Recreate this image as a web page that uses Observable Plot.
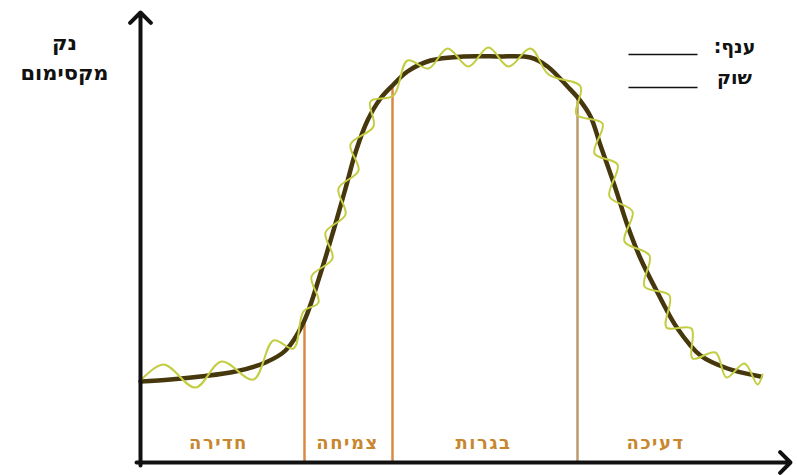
<!DOCTYPE html>
<html><head><meta charset="utf-8">
<script src="https://cdn.jsdelivr.net/npm/d3@7"></script>
<script src="https://cdn.jsdelivr.net/npm/@observablehq/plot@0.6"></script>
<style>body{margin:0;background:#fff;} svg text{font-family:"DejaVu Sans",sans-serif;}</style>
</head><body><div id="chart"></div>
<script>
// Industry curve (smooth, dark)
const curveX = [0,3,6,9.5,12.5,14.5,16.3,18,19.3,20.5,21.5,22.7,24,25.3,26.7,29,32.3,35.7,39,40.7,42.7,43.8,45,46,47.5,48.7,50,51.7,53.7,56,58.7,62];
const curveY = [8.1,8.3,8.6,9.1,10,11.2,14,18.9,23.2,27.4,31,34.2,36.4,37.8,39.1,40.2,40.6,40.6,40.5,39.6,37.6,36.4,34.6,31.7,27.4,23.7,20.4,17,13.4,10.7,9.4,8.6];
// Market curve (wavy, yellow-green)
const waveX = [0,2.3,5.5,8.1,11.3,13.3,15.3,16.3,17.8,17.1,19.2,18.5,20.5,19.8,21.8,21,23.3,23,25.3,26.7,28.8,30.7,32.8,34.8,36.8,39,40.8,44,43.6,46.2,45.4,47.7,46.9,49.2,48.4,50.9,50.4,52.9,52.6,55.1,55.2,57.5,58.6,60.4,61.7,62.2];
const waveY = [8.2,9.8,7.5,10.1,8.3,12.2,11.4,15.1,16,18.6,20.4,23,24.8,27.4,29.2,31.8,33.6,36.1,36.7,40.2,39.4,41.4,39.6,41.5,39.6,41.4,38.8,37.6,34.8,33.9,30.9,29.8,26.6,25.1,22.1,20.7,17.6,16.7,13.5,13.4,10.4,11,8.5,9.9,7.8,8.8];
// Stage dividers
const dividerX = [16.4, 25.2, 43.7];
const dividerTop = [14.2, 37.8, 36.4];
// Stage labels
const stageLabels = ["חדירה", "צמיחה", "בגרות", "דעיכה"];
const stageX = [7.8, 20.7, 34.3, 51.5];
const stageY = 1.9;
// Axis label and legend
const yLabelLines = ["נק", "מקסימום"];
const legendLabels = ["ענף:", "שוק"];

const RLM = "\u200F";
const curve = curveX.map((x, i) => ({x, y: curveY[i]}));
const wave = waveX.map((x, i) => ({x, y: waveY[i]}));
const dividers = dividerX.map((x, i) => ({x, top: dividerTop[i], i}));
const stages = stageLabels.map((t, i) => ({t, x: stageX[i]}));
const axes = [{x1: 0, y1: -0.3, x2: 0, y2: 45}, {x1: -0.4, y1: 0, x2: 65, y2: 0}];
const yLab = yLabelLines.map((t, i) => ({t, x: -7.6, y: 41.9 - i * 3.0}));
const legend = legendLabels.map((t, i) => ({t: t + RLM, x: 59.4, y: 41.6 - i * 3.1, ly: 40.8 - i * 3.3}));
const divColors = ["#d88a45", "#d88a45", "#bb9a6c"];

const chart = Plot.plot({
  width: 797, height: 475,
  marginLeft: 140, marginRight: 7, marginTop: 12, marginBottom: 13,
  x: {domain: [0, 65], axis: null},
  y: {domain: [0, 45], axis: null},
  marks: [
    Plot.ruleX(dividers, {x: "x", y1: 0, y2: "top", stroke: d => divColors[d.i], strokeWidth: 2.5}),
    Plot.line(curve, {x: "x", y: "y", curve: "catmull-rom", stroke: "#46380c", strokeWidth: 4.5}),
    Plot.line(wave, {x: "x", y: "y", curve: "catmull-rom", stroke: "#c3cd42", strokeWidth: 2}),
    Plot.arrow(axes, {x1: "x1", y1: "y1", x2: "x2", y2: "y2", stroke: "#111", strokeWidth: 4, headLength: 5.5, headAngle: 90}),
    Plot.text(stages, {x: "x", y: () => stageY, text: "t", fill: "#c8872e", fontSize: 18, fontWeight: "bold", className: "stage"}),
    Plot.text(yLab, {x: "x", y: "y", text: "t", fill: "#111", fontSize: 21, fontWeight: "bold"}),
    Plot.link(legend, {x1: () => 48.8, x2: () => 55.7, y1: "ly", y2: "ly", stroke: "#111", strokeWidth: 1.5}),
    Plot.text(legend, {x: "x", y: "y", text: "t", fill: "#111", fontSize: 19, fontWeight: "bold"})
  ]
});
d3.select(chart).selectAll(".stage text").style("letter-spacing", "1.5px");
document.getElementById("chart").appendChild(chart);
</script></body></html>
